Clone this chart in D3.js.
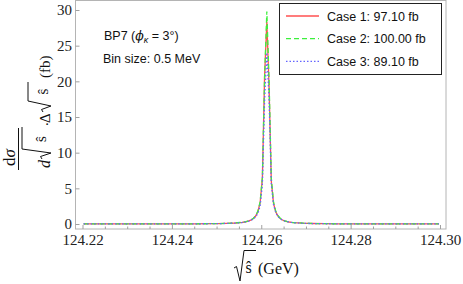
<!DOCTYPE html>
<html>
<head>
<meta charset="utf-8">
<script src="https://cdn.jsdelivr.net/npm/d3@7"></script>
<style>
  body { margin: 0; background: #fff; }
  .tick text { font-family: "Liberation Serif", serif; font-size: 15px; fill: #222; }
  .legend text, .note { font-family: "Liberation Sans", Arial, sans-serif; font-size: 12.5px; fill: #111; }
  .math { font-family: "Liberation Serif", serif; fill: #111; }
</style>
</head>
<body>
<div id="chart"></div>
<script>
// bin centres (GeV), 0.5 MeV bins, sparse away from the peak
var sqrtS = [124.22025, 124.23025, 124.24025, 124.24525, 124.24825, 124.25025, 124.25225, 124.25425,
  124.25525, 124.25575, 124.25625, 124.25675, 124.25725, 124.25775, 124.25825, 124.25875,
  124.25925, 124.25975, 124.26025, 124.26075, 124.26125, 124.26175, 124.26225, 124.26275,
  124.26325, 124.26375, 124.26425, 124.26475, 124.26525, 124.26575, 124.26625, 124.26675, 124.26725,
  124.26925, 124.27125, 124.27425, 124.27725, 124.28225, 124.28725, 124.29725, 124.29975];

var case1 = [0.004, 0.007, 0.016, 0.028, 0.042, 0.058, 0.087, 0.14,
  0.20, 0.23, 0.28, 0.35, 0.44, 0.58, 0.78, 1.12,
  1.75, 3.0, 6.4, 20.8, 28.4, 19.2, 6.0, 2.9,
  1.68, 1.1, 0.76, 0.56, 0.43, 0.34, 0.28, 0.23, 0.19,
  0.11, 0.07, 0.042, 0.028, 0.016, 0.010, 0.005, 0.004];

var case2 = [0.004, 0.007, 0.017, 0.029, 0.044, 0.06, 0.09, 0.15,
  0.21, 0.24, 0.29, 0.36, 0.46, 0.60, 0.81, 1.16,
  1.8, 3.1, 6.5, 20.6, 29.8, 20.2, 6.4, 3.05,
  1.78, 1.16, 0.8, 0.59, 0.45, 0.36, 0.29, 0.24, 0.2,
  0.12, 0.075, 0.044, 0.029, 0.017, 0.011, 0.005, 0.004];

var case3 = [0.004, 0.006, 0.015, 0.026, 0.039, 0.054, 0.08, 0.13,
  0.18, 0.21, 0.26, 0.32, 0.41, 0.53, 0.71, 1.0,
  1.5, 2.55, 5.5, 17.4, 24.0, 17.6, 5.6, 2.7,
  1.6, 1.04, 0.73, 0.54, 0.41, 0.33, 0.27, 0.22, 0.18,
  0.1, 0.065, 0.039, 0.026, 0.015, 0.01, 0.005, 0.004];

var caseLabels = ["Case 1: 97.10 fb", "Case 2: 100.00 fb", "Case 3: 89.10 fb"];
var xTicks = [124.22, 124.24, 124.26, 124.28, 124.30];
var xMinorTicks = [124.225, 124.23, 124.235, 124.245, 124.25, 124.255, 124.265, 124.27, 124.275, 124.285, 124.29, 124.295];
var yTicks = [0, 5, 10, 15, 20, 25, 30];

var svgWidth = 463, svgHeight = 284;
// frame box
var frame = { left: 75.5, top: 0.5, right: 446, bottom: 229 };

var svg = d3.select("#chart").append("svg")
  .attr("width", svgWidth)
  .attr("height", svgHeight);

var x = d3.scaleLinear().domain([124.22, 124.30]).range([82.5, 440]);
var y = d3.scaleLinear().domain([0, 30]).range([224, 10]);

svg.append("rect")
  .attr("x", frame.left).attr("y", frame.top)
  .attr("width", frame.right - frame.left).attr("height", frame.bottom - frame.top)
  .attr("fill", "none").attr("stroke", "#b4b4b4");

// axes, ticks pointing into the frame
var xAxis = svg.append("g")
  .attr("transform", `translate(0, ${frame.bottom})`)
  .call(d3.axisBottom(x).tickValues(xTicks).tickFormat(d3.format(".2f")).tickSize(-4).tickPadding(5.5));
var xMinor = svg.append("g")
  .attr("transform", `translate(0, ${frame.bottom})`)
  .call(d3.axisBottom(x).tickValues(xMinorTicks).tickFormat("").tickSize(-2.5));
var yAxis = svg.append("g")
  .attr("transform", `translate(${frame.left}, 0)`)
  .call(d3.axisLeft(y).tickValues(yTicks).tickSize(-4).tickPadding(3.5));

[xAxis, xMinor, yAxis].forEach(function(g) {
  g.select(".domain").remove();
  g.selectAll(".tick line").attr("stroke", "#a0a0a0");
});

// curves
var series = [
  { values: case1, color: "#ff5050", dash: null },
  { values: case2, color: "#3cf03c", dash: "5,3" },
  { values: case3, color: "#6464ff", dash: "1.5,2" }
];

var line = d3.line()
  .x(function(d) { return x(d[0]); })
  .y(function(d) { return y(d[1]); });

series.forEach(function(s) {
  svg.append("path")
    .datum(sqrtS.map(function(v, i) { return [v, s.values[i]]; }))
    .attr("d", line)
    .attr("fill", "none")
    .attr("stroke", s.color)
    .attr("stroke-width", 1.3)
    .attr("stroke-dasharray", s.dash);
});

// legend
var legend = svg.append("g").attr("class", "legend");
legend.append("rect")
  .attr("x", 279.5).attr("y", 3.5).attr("width", 162).attr("height", 71)
  .attr("fill", "#fff").attr("stroke", "#222");
series.forEach(function(s, i) {
  var ly = 16 + i * 22.7;
  legend.append("line")
    .attr("x1", 286).attr("x2", 319).attr("y1", ly).attr("y2", ly)
    .attr("stroke", s.color).attr("stroke-width", 1.3)
    .attr("stroke-dasharray", s.dash);
  legend.append("text")
    .attr("x", 327).attr("y", ly + 4.5)
    .text(caseLabels[i]);
});

// notes
var bp = svg.append("text").attr("class", "note").attr("x", 104).attr("y", 40);
bp.append("tspan").text("BP7 (");
bp.append("tspan").attr("font-style", "italic").attr("font-family", "DejaVu Serif").text("\u03d5");
bp.append("tspan").attr("font-style", "italic").attr("font-size", "9px").attr("dy", 3).text("\u03ba");
bp.append("tspan").attr("dy", -3).text(" = 3\u00b0)");
svg.append("text").attr("class", "note").attr("x", 103).attr("y", 63).text("Bin size: 0.5 MeV");

// radical sign helper: hook start, hook, bottom, top of vinculum, end
function radical(g, pts) {
  g.append("path")
    .attr("d", d3.line()(pts))
    .attr("fill", "none").attr("stroke", "#111").attr("stroke-width", 1)
    .attr("stroke-linejoin", "miter");
}

// x-axis title
var xt = svg.append("g").attr("class", "math");
radical(xt, [[234, 268], [236.5, 266.5], [240, 281], [244, 250.5], [256, 250.5]]);
xt.append("text").attr("x", 245.5).attr("y", 273).attr("font-size", "16px").text("\u015d");
xt.append("text").attr("x", 258).attr("y", 274).attr("font-size", "16px").text("(GeV)");

// y-axis title, rotated
var yt = svg.append("g").attr("class", "math")
  .attr("transform", "translate(50, 170) rotate(-90)");
var num = yt.append("text").attr("x", 12.5).attr("y", -35).attr("text-anchor", "middle").attr("font-size", "17px");
num.append("tspan").text("d");
num.append("tspan").attr("font-style", "italic").text("\u03c3");
yt.append("line").attr("x1", 0).attr("x2", 42).attr("y1", -31.5).attr("y2", -31.5)
  .attr("stroke", "#111").attr("stroke-width", 1);
yt.append("text").attr("x", 2).attr("y", 0).attr("font-size", "16px").attr("font-style", "italic").text("d");
radical(yt, [[11, -8], [13.5, -9.5], [17, 1], [21, -28], [43, -28]]);
yt.append("text").attr("x", 28).attr("y", -4).attr("font-size", "15px").text("\u015d");
yt.append("text").attr("x", 44).attr("y", -2).attr("font-size", "15px").text(".");
yt.append("text").attr("x", 47).attr("y", 0).attr("font-size", "15px").text("\u0394");
radical(yt, [[58, -7], [60.5, -8.5], [64, 1], [69, -22], [88, -22]]);
yt.append("text").attr("x", 75.5).attr("y", -2).attr("font-size", "15px").text("\u015d");
yt.append("text").attr("x", 92).attr("y", 0).attr("font-size", "15px").text("(fb)");
</script>
</body>
</html>
